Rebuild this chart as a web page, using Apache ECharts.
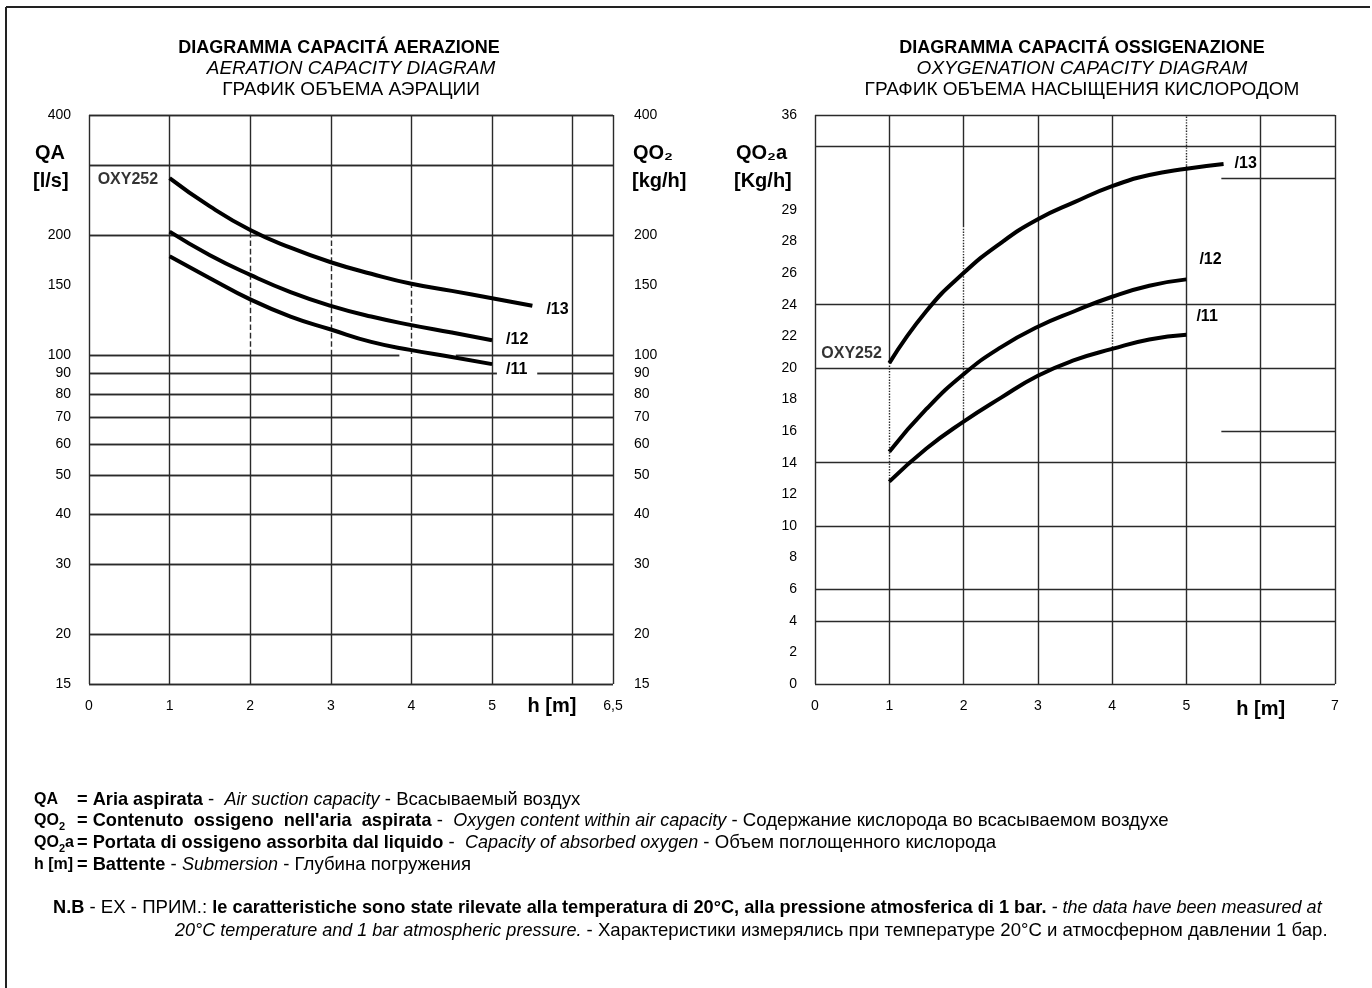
<!DOCTYPE html>
<html><head><meta charset="utf-8">
<script src="https://cdn.jsdelivr.net/npm/echarts@6/dist/echarts.min.js"></script>
<style>html,body{margin:0;padding:0;background:#fff}#c{width:1372px;height:988px}</style>
</head><body><div id="c"></div>
<script>
// ---------- DATA ----------
// Left chart: aeration capacity QA [l/s] (log scale) vs submersion h [m]
const hLeft = [1, 1.5, 2, 2.5, 3, 3.5, 4, 4.5, 5];
const hLeft13 = [1, 1.5, 2, 2.5, 3, 3.5, 4, 4.5, 5, 5.5];
const qa13 = [278, 236, 206, 186, 171, 160, 151, 145, 139, 133];
const qa12 = [204, 178, 159, 144, 133, 125, 119, 114, 109];
const qa11 = [177, 156, 138, 125, 116, 108, 103, 99, 95];
const leftYTicks = [15, 20, 30, 40, 50, 60, 70, 80, 90, 100, 150, 200, 400];
const leftYGridValues = [15, 20, 30, 40, 50, 60, 70, 80, 90, 100, 200, 300, 400];
const leftXTicks = [0, 1, 2, 3, 4, 5, 6.5];
const leftXTickLabels = ['0', '1', '2', '3', '4', '5', '6,5'];

// Right chart: oxygenation capacity QO2a [Kg/h] vs h [m]
const hRight = [1, 1.5, 2, 2.5, 3, 3.5, 4, 4.5, 5];
const hRight13 = [1, 1.5, 2, 2.5, 3, 3.5, 4, 4.5, 5, 5.5];
const qo13 = [20.3, 23.6, 26.0, 27.9, 29.4, 30.5, 31.5, 32.2, 32.6, 32.9];
const qo12 = [14.7, 17.4, 19.6, 21.3, 22.6, 23.6, 24.5, 25.2, 25.6];
const qo11 = [12.8, 14.9, 16.6, 18.1, 19.5, 20.5, 21.2, 21.8, 22.1];
const rightYTicks = [0, 2, 4, 6, 8, 10, 12, 14, 16, 18, 20, 22, 24, 26, 28, 30, 36];
const rightYTickLabels = ['0', '2', '4', '6', '8', '10', '12', '14', '16', '18', '20', '22', '24', '26', '28', '29', '36'];
const rightXTicks = [0, 1, 2, 3, 4, 5, 6, 7];
const rightXTickLabels = ['0', '1', '2', '3', '4', '5', 'h [m]', '7'];

const seriesNames = ['/13', '/12', '/11'];
const modelName = 'OXY252';

// ---------- CHART ----------
const FONT = '"Liberation Sans", Arial, sans-serif';
const GRID = '#2a2a2a';
function zip(xs, ys) { return ys.map((y, i) => [xs[i], y]); }
function seg(x1, y1, x2, y2, type) {
  return [{ coord: [x1, y1], lineStyle: { type: type || 'solid' } }, { coord: [x2, y2] }];
}
function lbl(ticks, labels) {
  return v => { const i = ticks.findIndex(t => Math.abs(t - v) < 1e-6); return i >= 0 ? labels[i] : ''; };
}

// left grid lines (data space)
const leftGridLines = [];
leftYGridValues.forEach(v => leftGridLines.push(seg(0, v, 6.5, v)));
[0, 1, 5, 6, 6.5].forEach(x => leftGridLines.push(seg(x, 15, x, 400)));
[2, 3].forEach(x => { leftGridLines.push(seg(x, 15, x, 100)); leftGridLines.push(seg(x, 100, x, 200, 'dashed')); leftGridLines.push(seg(x, 200, x, 400)); });
leftGridLines.push(seg(4, 15, 4, 100)); leftGridLines.push(seg(4, 100, 4, 155, 'dashed')); leftGridLines.push(seg(4, 155, 4, 400));
const leftGridGaps = [seg(3.85, 100, 4.55, 100), seg(5.06, 90, 5.56, 90)];

// right grid lines
const rightGridLines = [];
[0, 4, 6, 10, 14, 20, 24, 34, 36].forEach(v => rightGridLines.push(seg(0, v, 7, v)));
[32, 16].forEach(v => rightGridLines.push(seg(5.47, v, 7, v)));
[0, 3, 6, 7].forEach(x => rightGridLines.push(seg(x, 0, x, 36)));
rightGridLines.push(seg(1, 0, 1, 12.8)); rightGridLines.push(seg(1, 12.8, 1, 20.3, 'dotted')); rightGridLines.push(seg(1, 20.3, 1, 36));
rightGridLines.push(seg(2, 0, 2, 17.2)); rightGridLines.push(seg(2, 17.2, 2, 28.9, 'dotted')); rightGridLines.push(seg(2, 28.9, 2, 36));
rightGridLines.push(seg(4, 0, 4, 21.3)); rightGridLines.push(seg(4, 21.3, 4, 24, 'dotted')); rightGridLines.push(seg(4, 24, 4, 36));
rightGridLines.push(seg(5, 0, 5, 32.8)); rightGridLines.push(seg(5, 32.8, 5, 36, 'dotted'));

const curveStyle = { color: '#000', width: 4 };
const endLbl = (txt, dx, dy) => ({ show: true, formatter: txt, color: '#000', fontFamily: FONT, fontWeight: 'bold', fontSize: 16, offset: [dx, dy] });

function curve(name, xi, yi, data, endLabel) {
  return {
    name, type: 'line', xAxisIndex: xi, yAxisIndex: yi, data, smooth: 0.5, showSymbol: false, symbol: 'none',
    lineStyle: curveStyle, silent: true, animation: false, z: 5, endLabel
  };
}
function nameLabel(xi, yi, point, offset) {
  return {
    type: 'scatter', xAxisIndex: xi, yAxisIndex: yi, data: [point], symbolSize: 1, silent: true, z: 6,
    itemStyle: { color: 'rgba(0,0,0,0)' },
    label: { show: true, position: 'left', formatter: modelName, color: '#000', fontFamily: FONT, fontWeight: 'bold', fontSize: 16, offset }
  };
}
function gridSeries(xi, yi, lines, z, color, width) {
  return { type: 'line', xAxisIndex: xi, yAxisIndex: yi, data: [], silent: true, z: z || 1,
    markLine: { silent: true, symbol: ['none', 'none'], label: { show: false }, animation: false,
      lineStyle: { color: color || GRID, width: width || 1.4, type: 'solid' }, emphasis: { disabled: true }, data: lines } };
}

const axisLabelBase = { color: '#000', fontFamily: FONT, fontSize: 14 };
const footRich = {
  b: { fontFamily: FONT, fontWeight: 'bold', fontSize: 18.2, fill: '#000', lineHeight: 22 },
  i: { fontFamily: FONT, fontStyle: 'italic', fontSize: 18, fill: '#000', lineHeight: 22 },
  n: { fontFamily: FONT, fontSize: 18.6, fill: '#000', lineHeight: 22 },
  s: { fontFamily: FONT, fontWeight: 'bold', fontSize: 11, fill: '#000', lineHeight: 11, verticalAlign: 'bottom' }
};

const option = {
  animation: false,
  backgroundColor: '#fff',
  grid: [
    { left: 89, top: 115, width: 524, height: 569 },
    { left: 815, top: 115, width: 520, height: 569 }
  ],
  xAxis: [
    { type: 'value', gridIndex: 0, min: 0, max: 6.5, interval: 1, axisLine: { show: false }, axisTick: { show: false }, splitLine: { show: false },
      axisLabel: { ...axisLabelBase, margin: 15, showMaxLabel: true, showMinLabel: true, formatter: lbl(leftXTicks, leftXTickLabels) } },
    { type: 'value', gridIndex: 1, min: 0, max: 7, interval: 1, axisLine: { show: false }, axisTick: { show: false }, splitLine: { show: false },
      axisLabel: { ...axisLabelBase, margin: 15, showMaxLabel: true, formatter: v => { const t = lbl(rightXTicks, rightXTickLabels)(v); return t === 'h [m]' ? '{h|h [m]}' : t; },
        rich: { h: { fontFamily: FONT, fontWeight: 'bold', fontSize: 20, color: '#000' } } } }
  ],
  yAxis: [
    { type: 'log', gridIndex: 0, min: 15, max: 400, position: 'left', axisLine: { show: false },
      axisTick: { show: false, customValues: leftYGridValues },
      splitLine: { show: true, lineStyle: { color: GRID, width: 1.4 } }, minorSplitLine: { show: false },
      axisLabel: { ...axisLabelBase, margin: 18, customValues: leftYTicks, showMinLabel: true, showMaxLabel: true } },
    { type: 'log', gridIndex: 0, min: 15, max: 400, position: 'right', axisLine: { show: false }, axisTick: { show: false }, splitLine: { show: false },
      axisLabel: { ...axisLabelBase, margin: 21, customValues: leftYTicks, showMinLabel: true, showMaxLabel: true } },
    { type: 'value', gridIndex: 1, min: 0, max: 36, interval: 2, axisLine: { show: false }, axisTick: { show: false }, splitLine: { show: false },
      axisLabel: { ...axisLabelBase, margin: 18, showMaxLabel: true, formatter: lbl(rightYTicks, rightYTickLabels) } }
  ],
  series: [
    gridSeries(0, 0, leftGridLines),
    gridSeries(0, 0, leftGridGaps, 2, '#fff', 3),
    gridSeries(1, 2, rightGridLines),
    curve(seriesNames[0], 0, 0, zip(hLeft13, qa13), endLbl(seriesNames[0], 6, 4)),
    curve(seriesNames[1], 0, 0, zip(hLeft, qa12), endLbl(seriesNames[1], 6, -1)),
    curve(seriesNames[2], 0, 0, zip(hLeft, qa11), endLbl(seriesNames[2], 6, 5)),
    curve(seriesNames[0], 1, 2, zip(hRight13, qo13), endLbl(seriesNames[0], 3, 0)),
    curve(seriesNames[1], 1, 2, zip(hRight, qo12), endLbl(seriesNames[1], 5, -20)),
    curve(seriesNames[2], 1, 2, zip(hRight, qo11), endLbl(seriesNames[2], 2, -18)),
    nameLabel(0, 0, [hLeft13[0], qa13[0]], [-6, 2]),
    nameLabel(1, 2, [hRight13[0], qo13[0]], [-2, -10])
  ],
  graphic: [
    { type: 'line', shape: { x1: 6, y1: 7, x2: 1370, y2: 7 }, style: { stroke: '#222', lineWidth: 2 } },
    { type: 'line', shape: { x1: 6, y1: 7, x2: 6, y2: 988 }, style: { stroke: '#222', lineWidth: 2 } },
    // titles
    { type: 'text', x: 339, y: 48, style: { text: 'DIAGRAMMA CAPACITÁ AERAZIONE', font: 'bold 18px ' + FONT, fill: '#000', align: 'center', verticalAlign: 'middle' } },
    { type: 'text', x: 351, y: 69, style: { text: 'AERATION CAPACITY DIAGRAM', font: 'italic 19px ' + FONT, fill: '#000', align: 'center', verticalAlign: 'middle' } },
    { type: 'text', x: 351, y: 90, style: { text: 'ГРАФИК ОБЪЕМА АЭРАЦИИ', font: '19px ' + FONT, fill: '#000', align: 'center', verticalAlign: 'middle' } },
    { type: 'text', x: 1082, y: 48, style: { text: 'DIAGRAMMA CAPACITÁ OSSIGENAZIONE', font: 'bold 18px ' + FONT, fill: '#000', align: 'center', verticalAlign: 'middle' } },
    { type: 'text', x: 1082, y: 69, style: { text: 'OXYGENATION CAPACITY DIAGRAM', font: 'italic 19px ' + FONT, fill: '#000', align: 'center', verticalAlign: 'middle' } },
    { type: 'text', x: 1082, y: 90, style: { text: 'ГРАФИК ОБЪЕМА НАСЫЩЕНИЯ КИСЛОРОДОМ', font: '19px ' + FONT, fill: '#000', align: 'center', verticalAlign: 'middle' } },
    // axis names
    { type: 'text', x: 35, y: 153, style: { text: 'QA', font: 'bold 20px ' + FONT, fill: '#000', verticalAlign: 'middle' } },
    { type: 'text', x: 33, y: 181, style: { text: '[l/s]', font: 'bold 20px ' + FONT, fill: '#000', verticalAlign: 'middle' } },
    { type: 'text', x: 633, y: 153, style: { text: 'QO₂', font: 'bold 20px ' + FONT, fill: '#000', verticalAlign: 'middle' } },
    { type: 'text', x: 632, y: 181, style: { text: '[kg/h]', font: 'bold 20px ' + FONT, fill: '#000', verticalAlign: 'middle' } },
    { type: 'text', x: 736, y: 153, style: { text: 'QO₂a', font: 'bold 20px ' + FONT, fill: '#000', verticalAlign: 'middle' } },
    { type: 'text', x: 734, y: 181, style: { text: '[Kg/h]', font: 'bold 20px ' + FONT, fill: '#000', verticalAlign: 'middle' } },
    { type: 'text', x: 552, y: 706, style: { text: 'h [m]', font: 'bold 20px ' + FONT, fill: '#000', align: 'center', verticalAlign: 'middle' } },
    // legend / notes: symbols column
    ...[
      [800, '{b|QA}'],
      [821, '{b|QO}{s|2}'],
      [843, '{b|QO}{s|2}{b|a}'],
      [865, '{b|h [m]}']
    ].map(row => ({ type: 'text', x: 34, y: row[0], style: { text: row[1], verticalAlign: 'middle', fill: '#000', font: 'bold 16px ' + FONT,
      rich: { b: { ...footRich.b, fontSize: 16 }, s: footRich.s } } })),
    // legend / notes: descriptions
    ...[
      [800, '{b|= Aria aspirata}{n| -  }{i|Air suction capacity}{n| - Всасываемый воздух}'],
      [821, '{b|= Contenuto  ossigeno  nell\'aria  aspirata}{n| -  }{i|Oxygen content within air capacity}{n| - Содержание кислорода во всасываемом воздухе}'],
      [843, '{b|= Portata di ossigeno assorbita dal liquido}{n| -  }{i|Capacity of absorbed oxygen}{n| - Объем поглощенного кислорода}'],
      [865, '{b|= Battente}{n| - }{i|Submersion}{n| - Глубина погружения}'],
      [908, '{b|N.B}{n| - EX - ПРИМ.: }{b|le caratteristiche sono state rilevate alla temperatura di 20°C, alla pressione atmosferica di 1 bar.}{i| - the data have been measured at}'],
      [931, '{i|20°C temperature and 1 bar atmospheric pressure.}{n| - Характеристики измерялись при температуре 20°C и атмосферном давлении 1 бар.}']
    ].map((row, i) => ({
      type: 'text', x: i < 4 ? 77 : (i === 4 ? 53 : 175), y: row[0],
      style: { text: row[1], fill: '#000', verticalAlign: 'middle', font: '18px ' + FONT, rich: footRich }
    }))
  ]
};

const chart = echarts.init(document.getElementById('c'), null, { renderer: 'canvas' });
chart.setOption(option);
</script>
</body></html>
